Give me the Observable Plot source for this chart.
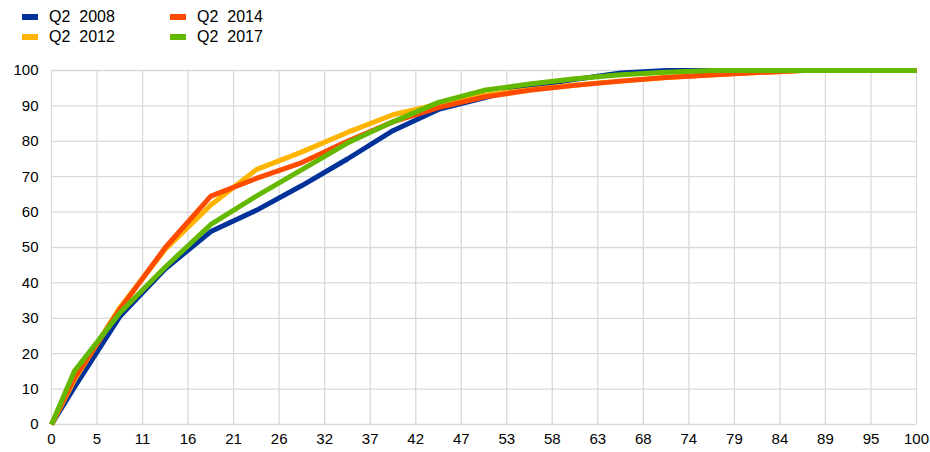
<!DOCTYPE html>
<html><head><meta charset="utf-8">
<script src="https://cdn.jsdelivr.net/npm/d3@7"></script>
<script src="https://cdn.jsdelivr.net/npm/@observablehq/plot@0.6"></script>
<style>
body{margin:0;background:#fff;font-family:"Liberation Sans",Arial,sans-serif;}
#legend{position:relative;height:50px;width:930px;font-size:16px;color:#000}
.item{position:absolute;display:flex;align-items:center;white-space:pre;height:18px}
.sw{width:16px;height:6px;margin-right:11px}
</style></head><body>
<div id="legend"></div>
<div id="chart"></div>
<script>
const xValues = [0, 2.63, 7.89, 13.16, 18.42, 23.68, 28.95, 34.21, 39.47, 44.74, 50, 55.26, 60.53, 65.79, 71.05, 76.32, 81.58, 86.84, 92.11, 97.37, 100];
const q2008 = [0, 10.5, 30.5, 44, 54.5, 60.5, 67.5, 75, 83, 89, 92.3, 95.5, 97.5, 99.3, 100, 100, 100, 100, 100, 100, 100];
const q2012 = [0, 12.5, 33, 49.5, 62, 72, 77, 82.5, 87.5, 90.5, 93, 94.6, 95.9, 97, 98, 98.8, 99.4, 100, 100, 100, 100];
const q2014 = [0, 13, 32.5, 50, 64.5, 69.5, 74, 80, 85.5, 89.5, 92.5, 94.4, 95.8, 97, 98, 98.7, 99.4, 100, 100, 100, 100];
const q2017 = [0, 15, 31.5, 44.5, 56.5, 64.5, 72, 79.5, 85.5, 91, 94.4, 96.2, 97.7, 98.8, 99.5, 100, 100, 100, 100, 100, 100];
const seriesNames = ["Q2  2008", "Q2  2012", "Q2  2014", "Q2  2017"];
const seriesColors = ["#003299", "#ffb400", "#ff4b00", "#65b800"];
const xTickLabels = [0, 5, 11, 16, 21, 26, 32, 37, 42, 47, 53, 58, 63, 68, 74, 79, 84, 89, 95, 100];
const yTicks = [0, 10, 20, 30, 40, 50, 60, 70, 80, 90, 100];

const allSeries = [q2008, q2012, q2014, q2017];
const rows = [];
allSeries.forEach((vals, si) => vals.forEach((v, i) => rows.push({series: seriesNames[si], x: xValues[i], y: v})));
const xTickPos = xTickLabels.map((_, i) => i * 100 / (xTickLabels.length - 1));

// legend
const legend = document.getElementById("legend");
const legendPos = [[22, 8], [22, 28], [170, 8], [170, 28]];
[0, 1, 2, 3].forEach((si, k) => {
  const d = document.createElement("div");
  d.className = "item";
  d.style.left = legendPos[k][0] + "px";
  d.style.top = legendPos[k][1] + "px";
  d.innerHTML = `<span class="sw" style="background:${seriesColors[si]}"></span><span>${seriesNames[si]}</span>`;
  legend.appendChild(d);
});

const chart = Plot.plot({
  width: 930, height: 402,
  marginTop: 20, marginBottom: 28, marginLeft: 51, marginRight: 14,
  style: {fontSize: "15px", fontFamily: "'Liberation Sans', Arial, sans-serif", color: "#000", background: "#fff"},
  x: {domain: [0, 100], label: null},
  y: {domain: [0, 100], label: null},
  color: {domain: seriesNames, range: seriesColors},
  marks: [
    Plot.gridX(xTickPos, {stroke: "#d9d9d9", strokeOpacity: 1, strokeWidth: 1.3}),
    Plot.gridY(yTicks, {stroke: "#d9d9d9", strokeOpacity: 1, strokeWidth: 1.3}),
    Plot.line(rows, {x: "x", y: "y", z: "series", stroke: "series", strokeWidth: 5, strokeLinejoin: "round", strokeLinecap: "butt"}),
    Plot.axisX(xTickPos, {tickSize: 0, tickPadding: 9, tickFormat: d => xTickLabels[Math.round(d * (xTickLabels.length - 1) / 100)], label: null, fill: "#000"}),
    Plot.axisY(yTicks, {tickSize: 0, tickPadding: 13, label: null, fill: "#000"})
  ]
});
document.getElementById("chart").appendChild(chart);
</script>
</body></html>
